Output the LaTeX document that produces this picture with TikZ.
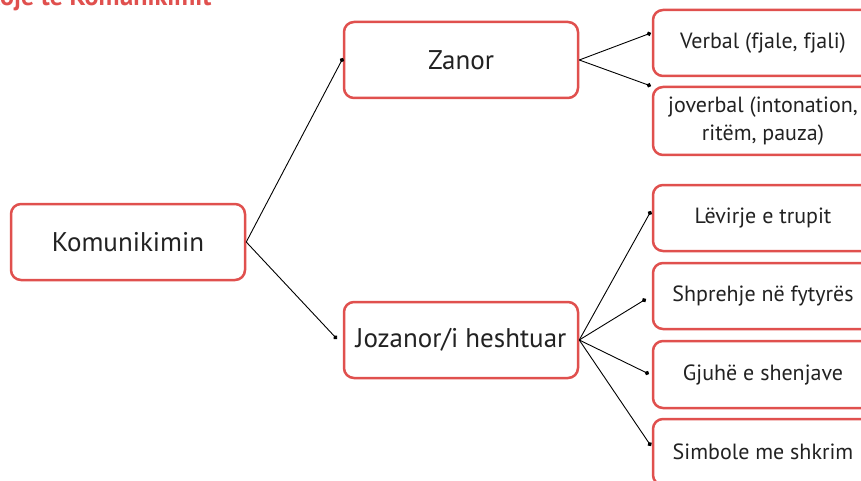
\documentclass[tikz,border=0pt]{standalone}
\usepackage{fontspec}
\setmainfont{PT Sans}
\usetikzlibrary{arrows.meta}
\definecolor{boxred}{HTML}{E0504E}
\definecolor{ink}{HTML}{222222}
\begin{document}
\begin{tikzpicture}[x=1pt,y=-1pt,
 box/.style={draw=boxred, line width=2.5pt, rounded corners=10pt, fill=white, align=center, inner sep=0pt, text=ink},
 big/.style={box, minimum width=234pt, minimum height=76pt, font=\fontsize{27}{32}\selectfont},
 small/.style={box, minimum width=220pt, minimum height=66pt, font=\fontsize{22}{28}\selectfont},
 link/.style={line width=0.9pt, -{Circle[length=4.5pt]}}]
\clip (0,0) rectangle (861,481);
\fill[white] (0,0) rectangle (861,481);
\node[anchor=base west, text=boxred, inner sep=0pt, font=\fontsize{26}{26}\selectfont\bfseries] (title) at (-21,6) {Lloje te Komunikimit};

\node[big] (k) at (128,242) {Komunikimin};
\node[big] (z) at (461,60) {Zanor};
\node[big] (j) at (461,340) {Jozanor/i heshtuar};

\node[small] (v) at (763,43) {Verbal (fjale, fjali)};
\node[small, minimum height=68pt] (jv) at (763,121) {joverbal (intonation,\\ritëm, pauza)};
\node[small] (l) at (763,218) {Lëvirje e trupit};
\node[small] (s) at (763,296) {Shprehje në fytyrës};
\node[small, minimum height=67pt] (g) at (763,374.5) {Gjuhë e shenjave};
\node[small] (sm) at (763,452) {Simbole me shkrim};

\coordinate (zin) at (343,58);
\coordinate (jin) at (337,339);
\coordinate (vin) at (651,33);
\coordinate (jvin) at (651,86);
\coordinate (lin) at (651,211);
\coordinate (sin) at (646,299);
\coordinate (gin) at (649,374);
\coordinate (smin) at (651,446);

\draw[link] (k.east) -- (zin);
\draw[link] (k.east) -- (jin);
\draw[link] (z.east) -- (vin);
\draw[link] (z.east) -- (jvin);
\draw[link] (j.east) -- (lin);
\draw[link] (j.east) -- (sin);
\draw[link] (j.east) -- (gin);
\draw[link] (j.east) -- (smin);
\end{tikzpicture}
\end{document}
